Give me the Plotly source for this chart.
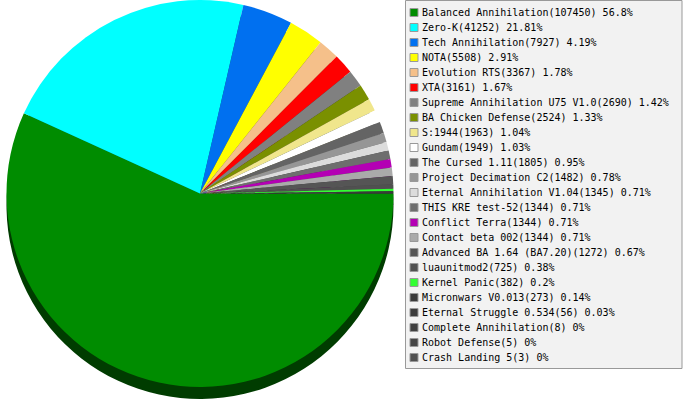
import plotly.graph_objects as go

names = ["Balanced Annihilation", "Zero-K", "Tech Annihilation", "NOTA", "Evolution RTS",
         "XTA", "Supreme Annihilation U75 V1.0", "BA Chicken Defense", "S:1944", "Gundam",
         "The Cursed 1.11", "Project Decimation C2", "Eternal Annihilation V1.04",
         "THIS KRE test-52", "Conflict Terra", "Contact beta 002", "Advanced BA 1.64 (BA7.20)",
         "luaunitmod2", "Kernel Panic", "Micronwars V0.013", "Eternal Struggle 0.534",
         "Complete Annihilation", "Robot Defense", "Crash Landing 5"]
counts = [107450, 41252, 7927, 5508, 3367, 3161, 2690, 2524, 1963, 1949, 1805, 1482, 1345,
          1344, 1344, 1344, 1272, 725, 382, 273, 56, 8, 5, 3]
pcts = ["56.8%", "21.81%", "4.19%", "2.91%", "1.78%", "1.67%", "1.42%", "1.33%", "1.04%",
        "1.03%", "0.95%", "0.78%", "0.71%", "0.71%", "0.71%", "0.71%", "0.67%", "0.38%",
        "0.2%", "0.14%", "0.03%", "0%", "0%", "0%"]
colors = ["#008c00", "#00ffff", "#0070f0", "#ffff00", "#f5c08a", "#ff0000", "#808080",
          "#7a9000", "#f0e68c", "#ffffff", "#646464", "#969696", "#dcdcdc", "#6e6e6e",
          "#b400b4", "#aaaaaa", "#555555", "#505050", "#32ff32", "#3a3a3a", "#3c3c3c",
          "#404040", "#464646", "#505050"]

labels = [f"{n}({c}) {p}" for n, c, p in zip(names, counts, pcts)]

W, H = 683, 400


def darken(hexc, f=0.43):
    h = hexc.lstrip("#")
    r, g, b = (int(h[i:i + 2], 16) for i in (0, 2, 4))
    return "#%02x%02x%02x" % (int(r * f), int(g * f), int(b * f))


R, CX, DEPTH = 193.5, 200, 12
fig = go.Figure()
# extruded side (shadow) of the 3D pie
fig.add_trace(go.Pie(
    labels=labels, values=counts, sort=False, direction="clockwise", rotation=90,
    marker=dict(colors=[darken(c) for c in colors], line=dict(width=0)),
    textinfo="none", hoverinfo="skip", showlegend=False,
    domain=dict(x=[(CX - R) / W, (CX + R) / W], y=[1 - (2 * R + DEPTH) / H, 1 - DEPTH / H]),
))
fig.add_trace(go.Pie(
    labels=labels, values=counts, sort=False, direction="clockwise", rotation=90,
    marker=dict(colors=colors, line=dict(width=0)),
    textinfo="none", showlegend=False,
    domain=dict(x=[(CX - R) / W, (CX + R) / W], y=[1 - 2 * R / H, 1]),
))

shapes = []
annotations = []


def px(x):
    return x / W


def py(y):
    return 1 - y / H


shapes.append(dict(type="rect", xref="paper", yref="paper",
                   x0=px(405.5), x1=px(682), y0=py(368.5), y1=py(0.5),
                   fillcolor="#f2f2f2", line=dict(color="#999999", width=1), layer="below"))
row0, step = 12.5, 15.0
for i, (lab, col) in enumerate(zip(labels, colors)):
    cy = row0 + i * step
    shapes.append(dict(type="rect", xref="paper", yref="paper",
                       x0=px(410), x1=px(418), y0=py(cy + 4), y1=py(cy - 4),
                       fillcolor=col, line=dict(color="#999999", width=1)))
    annotations.append(dict(xref="paper", yref="paper", x=px(420), y=py(cy),
                            text=lab, showarrow=False, xanchor="left", yanchor="middle",
                            font=dict(family="DejaVu Sans Mono", size=10, color="#000000")))

fig.update_layout(
    width=W, height=H, margin=dict(l=0, r=0, t=0, b=0),
    paper_bgcolor="white", plot_bgcolor="white",
    shapes=shapes, annotations=annotations, showlegend=False,
)
fig.write_html("out.html", config={"displayModeBar": False},
               post_script="document.body.style.margin='0px';")
